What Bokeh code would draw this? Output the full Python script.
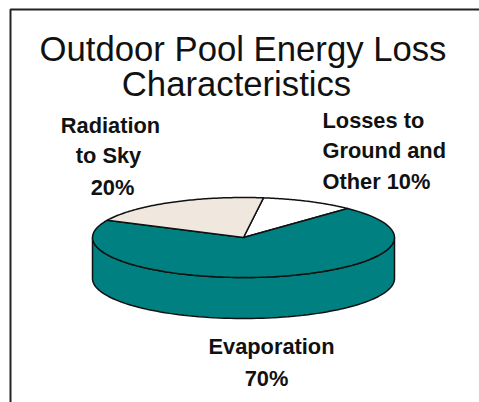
import numpy as np
from bokeh.core.properties import value
from bokeh.embed import file_html
from bokeh.plotting import figure
from bokeh.resources import INLINE

# Share of outdoor pool energy loss per category, clockwise from the first slice
categories = ["Losses to Ground and Other", "Evaporation", "Radiation to Sky"]
shares = [10, 70, 20]
slice_colors = ["#FFFFFF", "#008080", "#F0E8DE"]

title_lines = ["Outdoor Pool Energy Loss", "Characteristics"]
radiation_lines = ["Radiation", "to Sky", "20%"]
ground_lines = ["Losses to", "Ground and", "Other 10%"]
evaporation_lines = ["Evaporation", "70%"]

W, H = 479, 402
CX, CY = 243, 237      # centre of the pie's top face
RX, RY = 151, 40       # radii of the tilted top face
DEPTH = 41             # height of the pie's side wall
START_DEG = 7.6        # bearing where the first slice begins
INK = "#111111"

p = figure(width=W, height=H, x_range=(0, W), y_range=(H, 0),
           output_backend="svg", toolbar_location=None, min_border=0)
p.axis.visible = False
p.grid.visible = False
p.outline_line_color = None
p.background_fill_color = "#FFFFFF"
p.border_fill_color = "#FFFFFF"


def rim(a0, a1, n=90, dy=0.0):
    """Points on the tilted ellipse between two clockwise bearings in degrees."""
    t = np.radians(np.linspace(a0, a1, n))
    return CX + RX * np.sin(t), CY + dy - RY * np.cos(t)


# Side wall: the front half of the rim, swept down by the pie's depth
xa, ya = rim(90, 270)
xb, yb = rim(270, 90, dy=DEPTH)
p.patch(np.r_[xa, xb], np.r_[ya, yb], fill_color="#008080",
        line_color=INK, line_width=1.5)

# Top face: one wedge per share
edges = START_DEG + np.r_[0, np.cumsum(shares)] * 3.6
wedge_xs, wedge_ys = [], []
for a0, a1 in zip(edges[:-1], edges[1:]):
    xr, yr = rim(a0, a1)
    wedge_xs.append(np.r_[CX, xr])
    wedge_ys.append(np.r_[CY, yr])
p.patches(wedge_xs, wedge_ys, fill_color=slice_colors,
          line_color=INK, line_width=1.5)


def label(lines, xs, ys, size, style, align="center"):
    p.text(xs, ys, text=lines, text_align=align, text_baseline="middle",
           text_color="#111111", text_font=value("Liberation Sans"),
           text_font_size=size, text_font_style=style)


label(title_lines, [242.5, 236], [48, 83], "34.7px", "normal")
label(radiation_lines, [110, 108, 112], [125, 155, 187], "21.8px", "bold")
label(ground_lines, [322, 322, 322], [120, 150, 181], "21.8px", "bold", align="left")
label(evaporation_lines, [271, 266], [346, 378], "21.8px", "bold")

# Frame along the top and left of the page
p.line([479, 10, 10], [9, 9, 402], line_color="#222222", line_width=2)

open("out.html", "w").write(file_html(p, INLINE))
